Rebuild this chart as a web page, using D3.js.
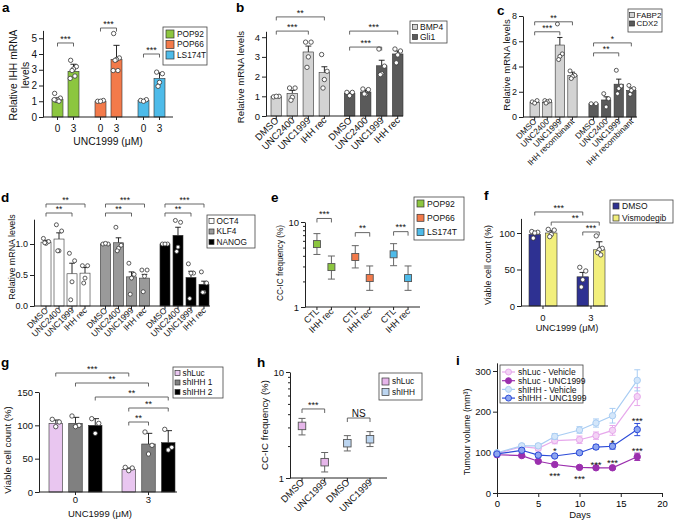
<!DOCTYPE html>
<html><head><meta charset="utf-8">
<script src="https://cdn.jsdelivr.net/npm/d3@7"></script>
<style>
body{margin:0;background:#fff;}
svg{font-family:"Liberation Sans",Arial,Helvetica,sans-serif;}
</style></head><body>
<svg id="fig" width="675" height="522"></svg>
<script>
// ================= DATA =================
// a
const aLines = ["POP92","POP66","LS174T"];
const aDoses = ["0","3"];
const aMean = [[1.1,2.9],[1.0,3.65],[1.05,2.45]];
const aErr = [[0.1,0.45],[0.05,0.9],[0.05,0.35]];
const aDots = [
  [[1.5,1.2,1.1,1.05,1.0,1.1],[3.6,3.2,3.05,2.95,2.6,2.45]],
  [[1.0,1.05,1.0],[5.3,3.75,3.65,3.6,2.95,2.95]],
  [[1.05,1.1,1.0],[2.85,2.75,2.2,1.95]]
];
const aSigVal = [4.7,5.65,4.0];
const aSigText = ["***","***","***"];
// b
const bGenes = ["BMP4","Gli1"];
const bTreat = ["DMSO","UNC2400","UNC1999","IHH rec"];
const bMean = [[1.0,1.15,3.25,2.2],[1.15,1.22,2.55,3.15]];
const bErr = [[0.03,0.15,0.3,0.3],[0.05,0.1,0.28,0.15]];
const bDots = [
  [[0.97,1.0,1.0],[1.42,1.42,0.95,0.8],[3.75,3.75,3.0,2.47],[3.12,2.27,1.85,1.42]],
  [[1.2,1.2,1.03],[1.37,1.34,1.1,1.12],[3.4,2.53,2.15,2.1],[3.4,3.3,3.1,2.7]]
];
// c
const cGenes = ["FABP2","CDX2"];
const cTreat = ["DMSO","UNC2400","UNC1999","IHH recombinant"];
const cMean = [[1.15,1.15,5.7,3.3],[1.05,1.35,2.6,2.1]];
const cErr = [[0.05,0.05,0.6,0.25],[0.02,0.25,0.4,0.2]];
const cDots = [
  [[1.2,1.3,1.1],[1.3,1.27,1.2,1.1],[7.37,5.0,4.8,4.55],[3.65,3.3,3.2,3.05]],
  [[1.05,1.05],[1.85,1.45,0.8],[3.7,2.45,2.25,1.85],[2.5,2.25,2.1,1.8]]
];
// d
const dGenes = ["OCT4","KLF4","NANOG"];
const dTreat = ["DMSO","UNC2400","UNC1999","IHH rec"];
const dMean = [[1.03,1.08,0.52,0.53],[1.0,1.02,0.47,0.45],[1.0,1.14,0.46,0.35]];
const dErr = [[0.03,0.1,0.17,0.09],[0.01,0.08,0.08,0.06],[0.01,0.13,0.1,0.05]];
const dDots = [
  [[1.09,1.04,1.01,1.02],[1.31,1.21,0.89,0.89],[0.85,0.73,0.39,0.1],[0.65,0.65,0.45,0.37]],
  [[1.0,1.0,1.01],[1.27,0.98,0.93,0.89],[0.69,0.51,0.45,0.19],[0.58,0.58,0.48,0.23]],
  [[1.0,1.0,1.0],[1.38,1.35,0.95,0.88],[0.68,0.53,0.53,0.12],[0.55,0.37,0.22,0.22]]
];
// e
const eLines = ["POP92","POP66","LS174T"];
const eConds = ["CTL","IHH rec"];
const eEst = [[5.5,2.95],[3.87,2.19],[4.17,2.19]];
const eLow = [[4.15,2.13],[2.88,1.57],[3.06,1.57]];
const eHigh = [[7.3,3.98],[5.27,3.04],[5.56,3.04]];
const eSigVal = [11.0,7.5,7.7];
const eSigText = ["***","**","***"];
// f
const fDoses = ["0","3"];
const fTreat = ["DMSO","Vismodegib"];
const fMean = [[98,100],[40,77]];
const fErr = [[3,3],[6,11]];
const fDots = [
  [[102,101,100,93],[105,104,98,95]],
  [[53,48,36,26],[96,79,77,73,70]]
];
// g
const gDoses = ["0","3"];
const gShrna = ["shLuc","shIHH 1","shIHH 2"];
const gMean = [[103,103,100],[34,72,74]];
const gErr = [[5,9,10],[2,16,18]];
const gDots = [
  [[109,105,98],[114,100,98],[110,103,88]],
  [[37,36,32],[90,70,57],[94,67,63]]
];
// h
const hGroups = ["shLuc","shLuc","shIHH","shIHH"];
const hConds = ["DMSO","UNC1999","DMSO","UNC1999"];
const hEst = [3.1,1.41,2.13,2.32];
const hLow = [2.55,1.14,1.8,1.98];
const hHigh = [3.65,1.74,2.51,2.74];
const hLegend = ["shLuc","shIHH"];
// i
const iDays = [0,3,5,7,10,12,14,17];
const iSeries = ["shLuc - Vehicle","shLuc - UNC1999","shIHH - Vehicle","shIHH - UNC1999"];
const iLucVeh = [97,114,110,129,131,141,154,237];
const iLucVehErr = [4,4,6,8,9,9,12,22];
const iLucUnc = [94,92,78,70,63,62,62,89];
const iLucUncErr = [3,3,3,3,3,3,3,9];
const iIhhVeh = [99,116,116,139,155,172,190,277];
const iIhhVehErr = [4,4,5,7,8,10,18,26];
const iIhhUnc = [96,105,93,91,99,113,115,156];
const iIhhUncErr = [3,4,4,4,4,5,7,15];
const iSigDays = [7,7,10,12,14,14,17,17];
const iSigVals = [110,47,40,75,79,130,183,110];
const iSigText = ["*","***","***","***","***","*","***","***"];

// ================= STYLE =================
const FONT = '"Liberation Sans", Arial, Helvetica, sans-serif';
const colA = ["#8cc63f","#f37a4a","#4ebbe9"];
const colB = ["#d3d3d3","#5a5a5a"];
const colD = ["#ffffff","#9a9a9a","#000000"];
const colF = ["#2e3192","#f2ef7c"];
const colG = ["#e9c6f0","#808080","#000000"];
const colH = ["#e6b6ea","#bcd5f0"];
const colI = ["#e7a9ec","#9b2fae","#a9cdf3","#2c4bd8"];
const fillI = ["#f3d3f5","#9b2fae","#d3e6fa","#8ea6f0"];

const svg = d3.select("#fig");

// ================= HELPERS =================
function letter(t,x,y){
  svg.append("text").attr("x",x).attr("y",y).attr("font-size",13.5).attr("font-weight","bold").attr("fill","#000").text(t);
}
function yAxis(scale,x,vals,fs,fmt){
  const ax = d3.axisLeft(scale).tickValues(vals).tickSize(4).tickSizeOuter(0).tickPadding(2)
    .tickFormat(fmt || d3.format("~g"));
  const g = svg.append("g").attr("transform",`translate(${x},0)`).call(ax);
  g.attr("font-family",FONT).attr("font-size",fs);
  g.selectAll("line,path").attr("stroke","#222");
  g.selectAll("text").attr("fill","#111");
  return g;
}
function minorLog(scale,x,vals){
  const g = svg.append("g").attr("transform",`translate(${x},0)`)
    .call(d3.axisLeft(scale).tickValues(vals).tickSize(2).tickFormat("").tickSizeOuter(0));
  g.select(".domain").remove();
  g.selectAll("line").attr("stroke","#222");
}
function baseline(x0,x1,y,ticks){
  svg.append("path").attr("d",`M${x0},${y}H${x1}`).attr("stroke","#222").attr("fill","none");
  (ticks||[]).forEach(t=>svg.append("path").attr("d",`M${t},${y}V${y+3}`).attr("stroke","#222"));
}
function yTitle(lines,xc,yc,fs){
  lines.forEach((t,k)=>{
    svg.append("text").attr("transform",`translate(${xc[k]+fs*0.36},${yc}) rotate(-90)`)
      .attr("text-anchor","middle").attr("font-size",fs).attr("fill","#111").text(t);
  });
}
function hText(t,x,y,fs,anchor){
  svg.append("text").attr("x",x).attr("y",y).attr("text-anchor",anchor||"middle").attr("font-size",fs).attr("fill","#111").text(t);
}
function rotLabel(t,x,y0,fs){
  svg.append("text").attr("transform",`translate(${x+fs*0.3},${y0+5}) rotate(-45)`)
    .attr("text-anchor","end").attr("font-size",fs).attr("fill","#111").text(t);
}
function bracket(x1,x2,y,label,fs,drop){
  const d = drop||3.5;
  svg.append("path").attr("d",`M${x1},${y+d}V${y}H${x2}V${y+d}`).attr("stroke","#555").attr("stroke-width",0.9).attr("fill","none");
  hText(label,(x1+x2)/2,y-1.2,fs||9);
}
function legendBox(x,y,w,h,items,colors,fs,sw,rowH,opt){
  svg.append("rect").attr("x",x).attr("y",y).attr("width",w).attr("height",h).attr("fill","#fff").attr("stroke","#444").attr("stroke-width",0.8);
  items.forEach((t,k)=>{
    const cy = y + opt.first + k*rowH;
    svg.append("rect").attr("x",x+opt.pad).attr("y",cy-sw/2).attr("width",sw).attr("height",sw)
      .attr("fill",colors[k]).attr("stroke","#333").attr("stroke-width",0.7);
    svg.append("text").attr("x",x+opt.pad+sw+opt.gap).attr("y",cy+fs*0.36).attr("font-size",fs).attr("fill","#111").text(t);
  });
}
const jit = [-0.26,0.26,0,-0.13,0.13,-0.3,0.3];
function bars(o){
  const xg = d3.scaleBand().domain(o.groups).range(o.range).paddingInner(o.gPad).paddingOuter(0);
  const xs = d3.scaleBand().domain(o.subs).range([0,xg.bandwidth()]).paddingInner(o.sPad).paddingOuter(0);
  const w = xs.bandwidth();
  const cx = (gi,si)=> xg(o.groups[gi]) + xs(o.subs[si]) + w/2;
  const y = o.y;
  o.groups.forEach((gn,gi)=>o.subs.forEach((sn,si)=>{
    const m=o.mean[gi][si], e=o.err[gi][si], x=cx(gi,si);
    svg.append("path").attr("d",`M${x},${y(m)}V${y(m+e)}M${x-w*0.28},${y(m+e)}H${x+w*0.28}`)
      .attr("stroke","#111").attr("stroke-width",0.9).attr("fill","none");
    svg.append("rect").attr("x",x-w/2).attr("y",y(m)).attr("width",w).attr("height",y(0)-y(m))
      .attr("fill",o.fill(gi,si)).attr("stroke","#333").attr("stroke-width",0.6);
    o.dots[gi][si].forEach((v,k)=>{
      svg.append("circle").attr("cx",x+jit[k%jit.length]*w).attr("cy",y(v)).attr("r",o.r||2.2)
        .attr("fill","#fff").attr("stroke","#333").attr("stroke-width",0.8);
    });
  }));
  return {cx, xg, w};
}
function sqPoint(x,yv,lo,hi,y,col,s){
  svg.append("path").attr("d",`M${x},${y(lo)}V${y(hi)}M${x-3.5},${y(lo)}H${x+3.5}M${x-3.5},${y(hi)}H${x+3.5}`)
    .attr("stroke","#666").attr("stroke-width",1).attr("fill","none");
  svg.append("rect").attr("x",x-s/2).attr("y",y(yv)-s/2).attr("width",s).attr("height",s)
    .attr("fill",col).attr("stroke","#555").attr("stroke-width",0.9);
}

// ================= PANEL a =================
{
  letter("a",2,12);
  const y = d3.scaleLinear().domain([0,5.5]).range([117,117-5.5*15.75]);
  const r = bars({groups:aLines,subs:aDoses,mean:aMean,err:aErr,dots:aDots,y,range:[52,165],gPad:0.372,sPad:0.3125,fill:(g)=>colA[g]});
  const ticks = []; aLines.forEach((l,gi)=>aDoses.forEach((d,si)=>{ticks.push(r.cx(gi,si)); hText(d,r.cx(gi,si),132,10);}));
  baseline(43,173,117,ticks);
  yAxis(y,43,[0,1,2,3,4,5],10);
  yTitle(["Relative IHH mRNA","levels"],[13,25],75,10.3);
  hText("UNC1999 (\u03bcM)",108,145,10.3);
  aLines.forEach((l,gi)=>bracket(r.cx(gi,0),r.cx(gi,1),y(aSigVal[gi]),aSigText[gi],9));
  legendBox(163,27,44,38,aLines,colA,8.3,8,10.5,{first:7,pad:3,gap:3});
}
// ================= PANEL b =================
{
  letter("b",236,12);
  const y = d3.scaleLinear().domain([0,4.3]).range([116,116-4.3*19.7]);
  const r = bars({groups:bGenes,subs:bTreat,mean:bMean,err:bErr,dots:bDots,y,range:[271,403],gPad:0.2,sPad:0.34,fill:(g)=>colB[g]});
  const ticks=[]; bGenes.forEach((g,gi)=>bTreat.forEach((t,si)=>{ticks.push(r.cx(gi,si)); rotLabel(t,r.cx(gi,si),116,9.5);}));
  baseline(266,403,116,ticks);
  yAxis(y,266,[0,1,2,3,4],9.5);
  yTitle(["Relative mRNA levels"],[241],77,9.6);
  bracket(r.cx(0,0),r.cx(0,3),y(5.03),"**",9);
  bracket(r.cx(0,0),r.cx(0,2),y(4.31),"***",9);
  bracket(r.cx(1,0),r.cx(1,3),y(4.31),"***",9);
  bracket(r.cx(1,0),r.cx(1,2),y(3.5),"***",9);
  legendBox(410,21,37,22,bGenes,colB,8.5,5,10,{first:6,pad:2.5,gap:2.5});
}
// ================= PANEL c =================
{
  letter("c",497,15);
  const y = d3.scaleLinear().domain([0,8]).range([117,16]);
  const r = bars({groups:cGenes,subs:cTreat,mean:cMean,err:cErr,dots:cDots,y,range:[530,636],gPad:0.2,sPad:0.26,fill:(g)=>colB[g],r:2});
  const ticks=[]; cGenes.forEach((g,gi)=>cTreat.forEach((t,si)=>{ticks.push(r.cx(gi,si)); rotLabel(t,r.cx(gi,si),117,8.3);}));
  baseline(523,637,117,ticks);
  yAxis(y,523,[0,2,4,6,8],9);
  yTitle(["Relative mRNA levels"],[507],65,9.5);
  bracket(r.cx(0,0),r.cx(0,3),y(7.54),"**",8.5);
  bracket(r.cx(0,0),r.cx(0,2),y(6.75),"***",8.5);
  bracket(r.cx(1,0),r.cx(1,3),y(5.87),"*",8.5);
  bracket(r.cx(1,0),r.cx(1,2),y(5.08),"**",8.5);
  legendBox(628,9,34,23,cGenes,colB,8,5,8.5,{first:6,pad:1.5,gap:2});
}
// ================= PANEL d =================
{
  letter("d",1,202);
  const y = d3.scaleLinear().domain([0,1.4]).range([306,306-1.4*62]);
  const r = bars({groups:dGenes,subs:dTreat,mean:dMean,err:dErr,dots:dDots,y,range:[41,209],gPad:0.176,sPad:0.23,fill:(g)=>colD[g],r:2});
  const ticks=[]; dGenes.forEach((g,gi)=>dTreat.forEach((t,si)=>{ticks.push(r.cx(gi,si)); rotLabel(t,r.cx(gi,si),306,8.5);}));
  baseline(34,210,306,ticks);
  yAxis(y,34,[0,0.5,1.0],9,d3.format(".1f"));
  yTitle(["Relative mRNA levels"],[12],257,8.9);
  dGenes.forEach((g,gi)=>{
    bracket(r.cx(gi,0),r.cx(gi,3),y(1.645),gi===0?"**":"***",8.5);
    bracket(r.cx(gi,0),r.cx(gi,2),y(1.5),"**",8.5);
  });
  legendBox(207,215,48,33,dGenes,colD,8.3,5,10.5,{first:6,pad:2,gap:2.5});
}
// ================= PANEL e =================
{
  letter("e",271,202);
  const y = d3.scaleLog().domain([1,10]).range([307,222]);
  const xg = d3.scaleBand().domain(eLines).range([310,415]).paddingInner(0.26).paddingOuter(0);
  const xs = d3.scalePoint().domain(eConds).range([0,xg.bandwidth()]).padding(0.48);
  const ticks=[];
  eLines.forEach((l,gi)=>eConds.forEach((c,si)=>{
    const x = xg(l)+xs(c); ticks.push(x);
    sqPoint(x,eEst[gi][si],eLow[gi][si],eHigh[gi][si],y,colA[gi],7);
    rotLabel(c,x,307,9);
  }));
  baseline(305,420,307,ticks);
  yAxis(y,305,[1,10],9.5,d3.format("d"));
  minorLog(y,305,[2,3,4,5,6,7,8,9]);
  yTitle(["CC-IC frequency (%)"],[280],263,8.2);
  eLines.forEach((l,gi)=>bracket(xg(l)+xs(eConds[0]),xg(l)+xs(eConds[1]),y(eSigVal[gi]),eSigText[gi],9,4));
  legendBox(414,197,50,43,eLines,colA,8.6,7,14.3,{first:6.5,pad:3,gap:3});
}
// ================= PANEL f =================
{
  letter("f",484,200);
  const y = d3.scaleLinear().domain([0,120]).range([306,306-120*0.73]);
  const r = bars({groups:fDoses,subs:fTreat,mean:fMean,err:fErr,dots:fDots,y,range:[529,605],gPad:0.417,sPad:0.3,fill:(g,s)=>colF[s]});
  const gc = fDoses.map((d,gi)=>r.xg(d)+r.xg.bandwidth()/2);
  baseline(521,608,306,gc);
  fDoses.forEach((d,gi)=>hText(d,gc[gi],321,9.5));
  hText("UNC1999 (\u03bcM)",567,331,9.3);
  yAxis(y,521,[0,50,100],9.5);
  yTitle(["Viable cell count (%)"],[488],265,8.8);
  bracket(r.cx(0,0),r.cx(1,0),y(128.8),"***",9);
  bracket(r.cx(0,1),r.cx(1,1),y(115),"**",9);
  bracket(r.cx(1,0),r.cx(1,1),y(101.4),"***",9);
  legendBox(610,200,63,23,fTreat,colF,8.5,6,12,{first:6,pad:3,gap:3});
}
// ================= PANEL g =================
{
  letter("g",1,367);
  const y = d3.scaleLinear().domain([0,150]).range([492,392]);
  const r = bars({groups:gDoses,subs:gShrna,mean:gMean,err:gErr,dots:gDots,y,range:[49,175],gPad:0.274,sPad:0.316,fill:(g,s)=>colG[s]});
  const gc = gDoses.map((d)=>r.xg(d)+r.xg.bandwidth()/2);
  baseline(39,177,492,gc);
  gDoses.forEach((d,gi)=>hText(d,gc[gi],503,9.5));
  hText("UNC1999 (\u03bcM)",100,517,9.5);
  yAxis(y,39,[0,50,100,150],9.5);
  yTitle(["Viable cell count (%)"],[8],450,9.6);
  bracket(r.cx(0,0),r.cx(1,0),y(178.5),"***",9);
  bracket(r.cx(0,1),r.cx(1,1),y(163.5),"**",9);
  bracket(r.cx(0,2),r.cx(1,2),y(142.5),"**",9);
  bracket(r.cx(1,0),r.cx(1,2),y(126),"**",9);
  bracket(r.cx(1,0),r.cx(1,1),y(105),"**",9);
  legendBox(173,367,50,31,gShrna,colG,8.3,5,9.5,{first:6,pad:2,gap:2.5});
}
// ================= PANEL h =================
{
  letter("h",257,367);
  const y = d3.scaleLog().domain([1,10]).range([478,372]);
  const idx = hConds.map((c,k)=>k);
  const x = d3.scalePoint().domain(idx).range([302,370]);
  idx.forEach(k=>{
    sqPoint(x(k),hEst[k],hLow[k],hHigh[k],y,colH[hLegend.indexOf(hGroups[k])],7.5);
    rotLabel(hConds[k],x(k),478,9.5);
  });
  baseline(290,387,478,idx.map(k=>x(k)));
  yAxis(y,290,[1,10],9.5,d3.format("d"));
  minorLog(y,290,[2,3,4,5,6,7,8,9]);
  yTitle(["CC-IC frequency (%)"],[265],425,9.7);
  bracket(x(0),x(1),y(4.48),"***",9,4);
  bracket(x(2),x(3),y(3.68),"NS",10,4);
  legendBox(379,373,43,27,hLegend,colH,8.3,7,10.5,{first:8.5,pad:3,gap:3});
}
// ================= PANEL i =================
{
  letter("i",456,365);
  const x = d3.scaleLinear().domain([0,20]).range([497,662]);
  const y = d3.scaleLinear().domain([0,320]).range([493,493-320*0.4067]);
  const gx = svg.append("g").attr("transform","translate(0,493)")
    .call(d3.axisBottom(x).tickValues([0,5,10,15,20]).tickSize(4).tickSizeOuter(0).tickPadding(3));
  gx.attr("font-family",FONT).attr("font-size",9.5);
  gx.selectAll("line,path").attr("stroke","#222");
  yAxis(y,497,[0,100,200,300],9.5);
  hText("Days",580,518,9.5);
  yTitle(["Tumour volume (mm\u00b3)"],[467],432,8.8);
  const series = [[iLucVeh,iLucVehErr],[iLucUnc,iLucUncErr],[iIhhVeh,iIhhVehErr],[iIhhUnc,iIhhUncErr]];
  const line = d3.line().x((d,k)=>x(iDays[k])).y(d=>y(d));
  series.forEach(([vals,errs],s)=>{
    svg.append("path").attr("d",line(vals)).attr("fill","none").attr("stroke",colI[s]).attr("stroke-width",1.2);
    vals.forEach((v,k)=>{
      const xx = x(iDays[k]);
      svg.append("path").attr("d",`M${xx},${y(v-errs[k])}V${y(v+errs[k])}M${xx-3},${y(v-errs[k])}H${xx+3}M${xx-3},${y(v+errs[k])}H${xx+3}`)
        .attr("stroke",colI[s]).attr("stroke-width",1).attr("fill","none");
    });
    vals.forEach((v,k)=>{
      svg.append("circle").attr("cx",x(iDays[k])).attr("cy",y(v)).attr("r",3.2)
        .attr("fill",fillI[s]).attr("stroke",colI[s]).attr("stroke-width",1);
    });
  });
  iSigDays.forEach((d,k)=>hText(iSigText[k],x(d),y(iSigVals[k])+5.5,9.5));
  // legend
  svg.append("rect").attr("x",500).attr("y",365).attr("width",83).attr("height",38).attr("fill","#fff").attr("stroke","#444").attr("stroke-width",0.8);
  iSeries.forEach((t,k)=>{
    const cy = 372 + k*8.7;
    svg.append("path").attr("d",`M502,${cy}H515`).attr("stroke",colI[k]).attr("stroke-width",1.2);
    svg.append("circle").attr("cx",508.5).attr("cy",cy).attr("r",3).attr("fill",fillI[k]).attr("stroke",colI[k]);
    svg.append("text").attr("x",518).attr("y",cy+3.1).attr("font-size",8.5).attr("fill","#111").text(t);
  });
}
</script>
</body></html>
